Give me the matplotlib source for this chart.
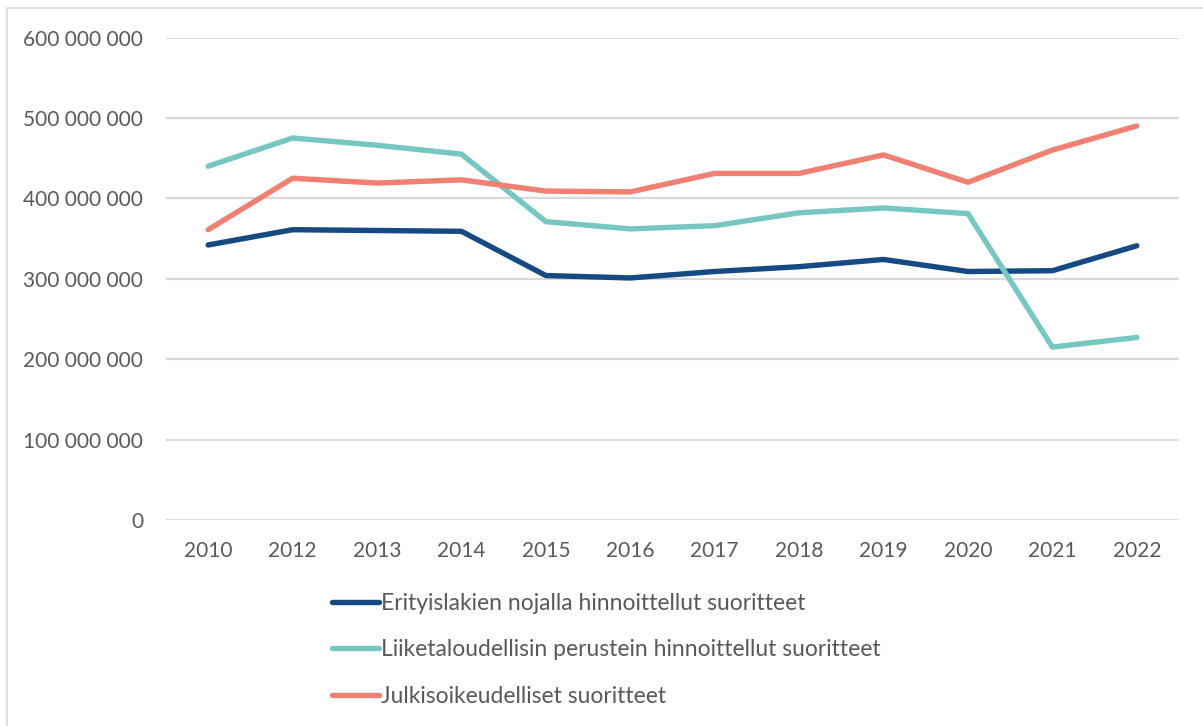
import matplotlib
matplotlib.use("Agg")
import matplotlib.pyplot as plt
from matplotlib.patches import Rectangle

plt.rcParams['font.family'] = ['Lato', 'DejaVu Sans']

years = ["2010", "2012", "2013", "2014", "2015", "2016", "2017", "2018", "2019", "2020", "2021", "2022"]
erityis = [342, 361, 360, 359, 304, 301, 309, 315, 324, 309, 310, 341]
liiketal = [440, 475, 466, 455, 371, 362, 366, 382, 388, 381, 215, 227]
julkis = [361, 425, 419, 423, 409, 408, 431, 431, 454, 420, 460, 490]
labels = ["Erityislakien nojalla hinnoittellut suoritteet",
          "Liiketaloudellisin perustein hinnoittellut suoritteet",
          "Julkisoikeudelliset suoritteet"]
colors = ["#154B82", "#76C6C2", "#F08072"]
yticks = [0, 100, 200, 300, 400, 500, 600]

W, H = 1203, 726
fig = plt.figure(figsize=(W/100, H/100), dpi=100)
ax = fig.add_axes([166/W, 1-520/H, (1179-166)/W, (520-37.5)/H])

x = list(range(len(years)))
for vals, lab, c in zip([erityis, liiketal, julkis], labels, colors):
    ax.plot(x, [v*1e6 for v in vals], color=c, lw=3.9, label=lab,
            solid_capstyle='round', solid_joinstyle='round')

ax.set_xlim(-0.5, len(years)-0.5)
ax.set_ylim(0, 600e6)
ax.set_yticks([t*1e6 for t in yticks])
ax.set_yticklabels([("{:,}".format(t*1000000)).replace(",", " ") for t in yticks])
ax.set_xticks(x)
ax.set_xticklabels(years)
ax.tick_params(length=0, labelsize=15, colors='#595959')
ax.tick_params(axis='y', pad=16.5)
ax.tick_params(axis='x', pad=15)
for s in ax.spines.values():
    s.set_visible(False)
ax.grid(axis='y', color='#D9D9D9', lw=1.6)
ax.set_axisbelow(True)

leg = fig.legend(loc='upper left', bbox_to_anchor=(311/W, 1-572/H), frameon=False,
                 fontsize=16.5, labelcolor='#595959', handlelength=2.05, handletextpad=0.12,
                 labelspacing=1.12)

fig.patches.append(Rectangle((6.5/W, -0.1), 1.2, (1-8/H)+0.1, transform=fig.transFigure,
                             fill=False, edgecolor='#D9D9D9', lw=1.2))

fig.savefig("out.png", dpi=100)
